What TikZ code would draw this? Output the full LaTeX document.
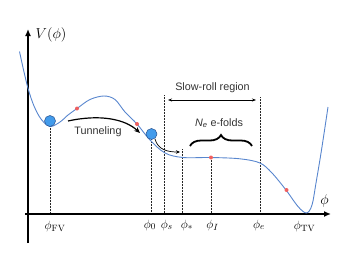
\documentclass[tikz,border=0pt]{standalone}
\usepackage{fontspec}
\newfontfamily\labelfont{Liberation Sans}
\usetikzlibrary{arrows.meta,decorations.pathreplacing}
\definecolor{curveblue}{RGB}{88,134,206}
\definecolor{ballblue}{RGB}{66,155,235}
\definecolor{balledge}{RGB}{40,80,140}
\definecolor{reddot}{RGB}{240,95,95}
\tikzset{
  ball/.style={circle, fill=ballblue, draw=balledge, line width=0.5pt, minimum size=11pt, inner sep=0pt},
  rdot/.style={circle, fill=reddot, minimum size=4pt, inner sep=0pt},
  guide/.style={densely dotted, line width=0.5pt, black!85},
  axisline/.style={line width=1.5pt, -{Latex[length=7pt,width=6pt]}},
  curveline/.style={curveblue, line width=0.9pt},
  lbl/.style={font=\fontsize{13}{15}\selectfont, inner sep=0pt},
  biglbl/.style={font=\fontsize{15.5}{18}\selectfont, inner sep=0pt},
  txt/.style={font=\labelfont\fontsize{10.8}{13}\selectfont, text=black!80, inner sep=0pt},
}
\begin{document}
\begin{tikzpicture}[x=1pt,y=-1pt]
\useasboundingbox (0,0) rectangle (346,268);
% axes
\coordinate (yb) at (28,243); \coordinate (yt) at (28,29);
\coordinate (xl) at (25,214); \coordinate (xr) at (331,214);
% guide lines
\coordinate (gFVt) at (50,126); \coordinate (gFVb) at (50,214);
\coordinate (g0t) at (151,136); \coordinate (g0b) at (151,214);
\coordinate (gst) at (164,95); \coordinate (gsb) at (164,214);
\coordinate (gat) at (182,149); \coordinate (gab) at (182,214);
\coordinate (gIt) at (211,158); \coordinate (gIb) at (211,214);
\coordinate (get) at (260,97); \coordinate (geb) at (260,214);
\draw[guide] (gFVt) -- (gFVb);
\draw[guide] (g0t) -- (g0b);
\draw[guide] (gst) -- (gsb);
\draw[guide] (gat) -- (gab);
\draw[guide] (gIt) -- (gIb);
\draw[guide] (get) -- (geb);
\draw[axisline] (yb) -- (yt);
\draw[axisline] (xl) -- (xr);
% potential
\draw[curveline] plot[smooth, tension=0.55] coordinates {
 (19.5,51.5) (24,72) (28.5,90) (34,106) (41,119) (50,126.5) (60,122) (68,115)
 (77,108.5) (90,99.5) (104,96) (115,99.5) (125,112) (137,124) (150,140)
 (165,153) (183,157.5) (211,157.5) (240,158.8) (260,163) (272,173) (286,190)
 (298,206.5) (306.5,213) (312,205) (316,183) (321.5,150) (328,107)};
% markers
\node[ball] (fv) at (50,121) {};
\node[ball] (b0) at (151.5,134) {};
\node[rdot] (r1) at (77,108.5) {};
\node[rdot] (r2) at (137,124) {};
\node[rdot] (r3) at (211,157.5) {};
\node[rdot] (r4) at (286.5,190) {};
% tunneling arrow
\coordinate (t1) at (68,121); \coordinate (t2) at (140,133);
\draw[line width=1.2pt, -{Stealth[length=6pt,width=5pt]}] (t1) .. controls (100,114) and (125,119) .. (t2);
\node[txt] (tun) at (98,132) {Tunneling};
% roll arrow
\coordinate (s1) at (155,139); \coordinate (s2) at (180,152);
\draw[line width=0.7pt, -{Stealth[length=4pt,width=3.5pt]}] (s1) .. controls (158,150) and (168,152) .. (s2);
% slow-roll region
\coordinate (srl) at (168,100); \coordinate (srr) at (256,100);
\draw[line width=0.6pt, {Stealth[length=4pt,width=3pt]}-{Stealth[length=4pt,width=3pt]}] (srl) -- (srr);
\node[txt] (sr) at (212.5,88) {Slow-roll region};
% brace
\coordinate (br1) at (190,146); \coordinate (br2) at (252,146);
\draw[decorate, decoration={brace, amplitude=11pt}, line width=1.8pt] (br1) -- (br2);
\node[txt] (ne) at (219,123) {\textit{N}\textsubscript{\textit{e}} e-folds};
% labels
\node[biglbl] (V) at (51,35) {$V(\phi)$};
\node[biglbl] (phi) at (324.5,201) {$\phi$};
\node[lbl] (lFV) at (55,226) {$\phi_{\rm FV}$};
\node[lbl] (l0) at (150,225) {$\phi_0$};
\node[lbl] (ls) at (166.7,225) {$\phi_s$};
\node[lbl] (la) at (187,225) {$\phi_*$};
\node[lbl] (lI) at (212.5,225) {$\phi_I$};
\node[lbl] (le) at (259,225) {$\phi_e$};
\node[lbl] (lTV) at (304.5,226) {$\phi_{\rm TV}$};
\end{tikzpicture}
\end{document}
